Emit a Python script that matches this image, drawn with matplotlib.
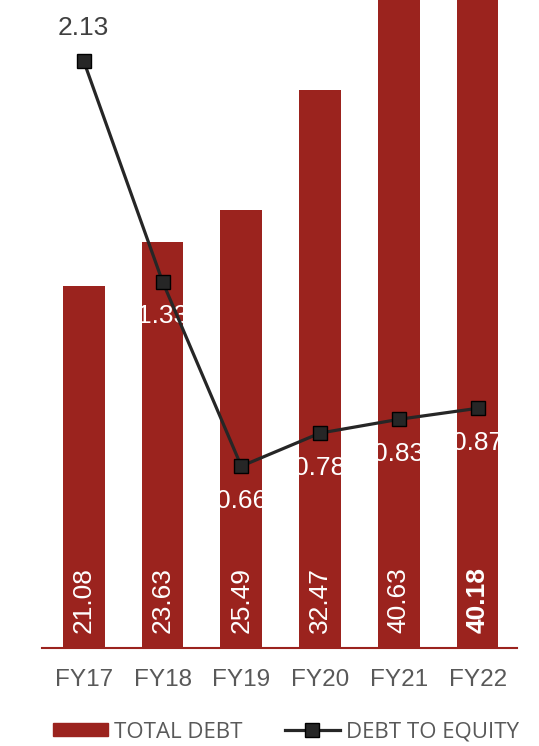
import matplotlib.pyplot as plt
import numpy as np
from matplotlib.patches import Patch
from matplotlib.lines import Line2D

years = ["FY17", "FY18", "FY19", "FY20", "FY21", "FY22"]
total_debt = [21.08, 23.63, 25.49, 32.47, 40.63, 40.18]
debt_to_equity = [2.13, 1.33, 0.66, 0.78, 0.83, 0.87]

red = "#9b231e"
dark = "#262626"
plt.rcParams["font.family"] = ["Liberation Sans", "DejaVu Sans"]

fig = plt.figure(figsize=(5.39, 7.46), dpi=100)
ax = fig.add_axes([42 / 539, 98 / 746, 475 / 539, 648 / 746])
x = np.arange(len(years))

ax.bar(x, total_debt, width=0.53, color=red, zorder=2)
ax.set_ylim(0, 37.7)
ax.set_xlim(-0.53, 5.5)
ax.set_xticks(x)
ax.set_xticklabels(years, fontsize=17.5, color="#595959")
ax.tick_params(axis="x", length=0, pad=15)
ax.set_yticks([])
for s in ["top", "right", "left"]:
    ax.spines[s].set_visible(False)
ax.spines["bottom"].set_color(red)
ax.spines["bottom"].set_linewidth(1.5)

for i, v in enumerate(total_debt):
    ax.text(i, 0.9, f"{v:.2f}", rotation=90, ha="center", va="bottom",
            color="white", fontsize=19,
            fontweight="bold" if i == len(years) - 1 else "normal", zorder=3)

ax2 = ax.twinx()
ax2.set_ylim(0, 2.352)
ax2.axis("off")
ax2.plot(x, debt_to_equity, color=dark, lw=2.3, marker="s", markersize=9.5,
         markerfacecolor=dark, markeredgecolor="black", zorder=4)
for i, v in enumerate(debt_to_equity):
    if i == 0:
        ax2.annotate(f"{v:.2f}", (i, v), xytext=(0, 24), textcoords="offset points",
                     ha="center", va="center", fontsize=19, color="#404040")
    else:
        ax2.annotate(f"{v:.2f}", (i, v), xytext=(0, -25), textcoords="offset points",
                     ha="center", va="center", fontsize=19, color="white")

handles = [Patch(facecolor=red, edgecolor=red),
           Line2D([], [], color=dark, lw=2.3, marker="s", markersize=9.5,
                  markerfacecolor=dark, markeredgecolor="black")]
fig.legend(handles, ["TOTAL DEBT", "DEBT TO EQUITY"], loc="center",
           bbox_to_anchor=(0.53, 14 / 746), ncol=2, frameon=False,
           prop={"family": "Open Sans", "size": 16}, labelcolor="#595959",
           handlelength=2.5, handleheight=0.55, handletextpad=0.25, columnspacing=1.9)

fig.savefig("out.png", dpi=100)
